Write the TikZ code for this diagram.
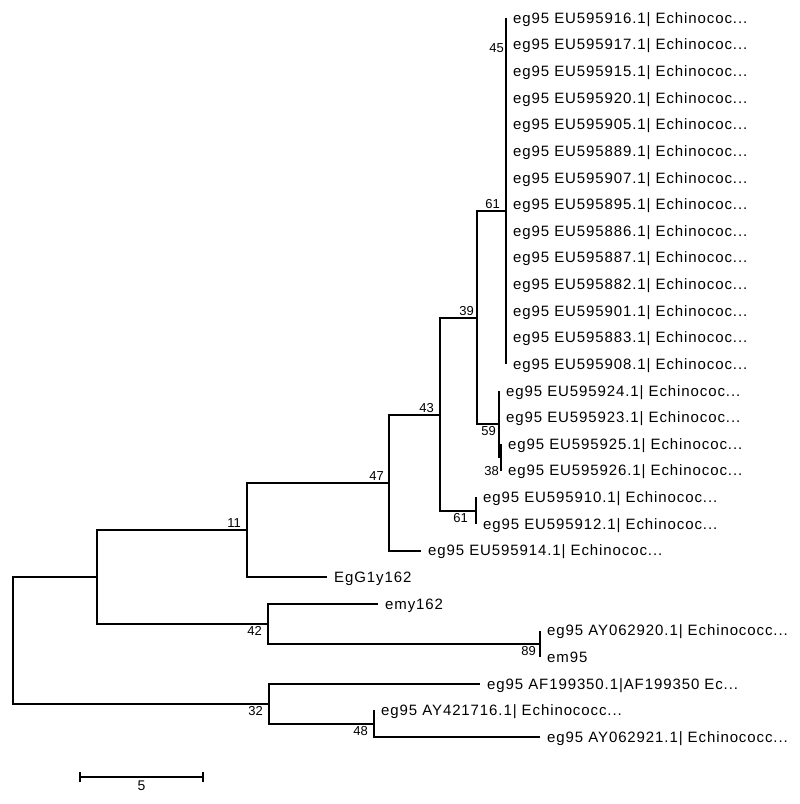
\documentclass[tikz,border=0pt]{standalone}
\usepackage{fontspec}
\setmainfont{Liberation Sans}
\newfontfamily\taxonfont[LetterSpace=6]{Liberation Sans}
\usetikzlibrary{calc}
\newcommand{\leaflabelfont}{\taxonfont\fontsize{15}{17}\selectfont}
\newcommand{\bootlabelfont}{\fontsize{13}{15}\selectfont}
\begin{document}
\begin{tikzpicture}[x=1pt,y=-1pt,
  branch/.style={line width=2pt},
  leaf/.style={anchor=west,inner sep=0pt,xshift=7pt,text height=10.5pt,text depth=0pt,font=\leaflabelfont,text=black},
  boot/.style={inner sep=2pt,font=\bootlabelfont,text=black}]
\useasboundingbox[fill=white] (0,0) rectangle (800,804);

% internal nodes
\coordinate (root) at (13,640.5);
\coordinate (nA) at (97,577);
\coordinate (n11) at (247,530);
\coordinate (n47) at (389,483);
\coordinate (n43) at (440,415);
\coordinate (n39) at (477,318);
\coordinate (n61) at (506,211);
\coordinate (n59) at (499,424);
\coordinate (n38) at (501,457);
\coordinate (n61b) at (476,511);
\coordinate (n42) at (268,624);
\coordinate (n89) at (540,644);
\coordinate (n32) at (269,704);
\coordinate (n48) at (374,724);

% leaf ends
\coordinate (l1) at (506,18.0);
\coordinate (l2) at (506,44.6);
\coordinate (l3) at (506,71.3);
\coordinate (l4) at (506,97.9);
\coordinate (l5) at (506,124.5);
\coordinate (l6) at (506,151.2);
\coordinate (l7) at (506,177.8);
\coordinate (l8) at (506,204.4);
\coordinate (l9) at (506,231.0);
\coordinate (l10) at (506,257.7);
\coordinate (l11) at (506,284.3);
\coordinate (l12) at (506,310.9);
\coordinate (l13) at (506,337.6);
\coordinate (l14) at (506,364.2);
\coordinate (l15) at (499,390.8);
\coordinate (l16) at (499,417.5);
\coordinate (l17) at (501,444.1);
\coordinate (l18) at (501,470.7);
\coordinate (l19) at (476,497.3);
\coordinate (l20) at (476,524.0);
\coordinate (l21) at (421,550.6);
\coordinate (l22) at (327,577.2);
\coordinate (l23) at (378,603.9);
\coordinate (l24) at (540,630.5);
\coordinate (l25) at (540,657.1);
\coordinate (l26) at (480,683.8);
\coordinate (l27) at (374,710.4);
\coordinate (l28) at (540,737.0);

% branches
\draw[branch] (root) |- (nA);
\draw[branch] (root) |- (n32);
\draw[branch] (nA) |- (n11);
\draw[branch] (nA) |- (n42);
\draw[branch] (n11) |- (n47);
\draw[branch] (n11) |- (l22);
\draw[branch] (n47) |- (n43);
\draw[branch] (n47) |- (l21);
\draw[branch] (n43) |- (n39);
\draw[branch] (n43) |- (n61b);
\draw[branch] (n39) |- (n61);
\draw[branch] (n39) |- (n59);
\draw[branch] (n61) -- (l1);
\draw[branch] (n61) -- (l14);
\draw[branch] (n59) -- (l15);
\draw[branch] (n59) |- (n38);
\draw[branch] (n38) -- (l17);
\draw[branch] (n38) -- (l18);
\draw[branch] (n61b) -- (l19);
\draw[branch] (n61b) -- (l20);
\draw[branch] (n42) |- (l23);
\draw[branch] (n42) |- (n89);
\draw[branch] (n89) -- (l24);
\draw[branch] (n89) -- (l25);
\draw[branch] (n32) |- (l26);
\draw[branch] (n32) |- (n48);
\draw[branch] (n48) -- (l27);
\draw[branch] (n48) |- (l28);

% taxa
\node[leaf] (t1) at (l1) {eg95 EU595916.1| Echinococ...};
\node[leaf] (t2) at (l2) {eg95 EU595917.1| Echinococ...};
\node[leaf] (t3) at (l3) {eg95 EU595915.1| Echinococ...};
\node[leaf] (t4) at (l4) {eg95 EU595920.1| Echinococ...};
\node[leaf] (t5) at (l5) {eg95 EU595905.1| Echinococ...};
\node[leaf] (t6) at (l6) {eg95 EU595889.1| Echinococ...};
\node[leaf] (t7) at (l7) {eg95 EU595907.1| Echinococ...};
\node[leaf] (t8) at (l8) {eg95 EU595895.1| Echinococ...};
\node[leaf] (t9) at (l9) {eg95 EU595886.1| Echinococ...};
\node[leaf] (t10) at (l10) {eg95 EU595887.1| Echinococ...};
\node[leaf] (t11) at (l11) {eg95 EU595882.1| Echinococ...};
\node[leaf] (t12) at (l12) {eg95 EU595901.1| Echinococ...};
\node[leaf] (t13) at (l13) {eg95 EU595883.1| Echinococ...};
\node[leaf] (t14) at (l14) {eg95 EU595908.1| Echinococ...};
\node[leaf] (t15) at (l15) {eg95 EU595924.1| Echinococ...};
\node[leaf] (t16) at (l16) {eg95 EU595923.1| Echinococ...};
\node[leaf] (t17) at (l17) {eg95 EU595925.1| Echinococ...};
\node[leaf] (t18) at (l18) {eg95 EU595926.1| Echinococ...};
\node[leaf] (t19) at (l19) {eg95 EU595910.1| Echinococ...};
\node[leaf] (t20) at (l20) {eg95 EU595912.1| Echinococ...};
\node[leaf] (t21) at (l21) {eg95 EU595914.1| Echinococ...};
\node[leaf] (t22) at (l22) {EgG1y162};
\node[leaf] (t23) at (l23) {emy162};
\node[leaf] (t24) at (l24) {eg95 AY062920.1| Echinococc...};
\node[leaf] (t25) at (l25) {em95};
\node[leaf] (t26) at (l26) {eg95 AF199350.1|AF199350 Ec...};
\node[leaf] (t27) at (l27) {eg95 AY421716.1| Echinococc...};
\node[leaf] (t28) at (l28) {eg95 AY062921.1| Echinococc...};

% bootstrap values
\node[boot,left,yshift=-3pt] (b45) at (l2) {45};
\node[boot,above left,xshift=-4pt] (b61) at (n61) {61};
\node[boot,above left,xshift=-1pt] (b39) at (n39) {39};
\node[boot,above left,xshift=-4pt] (b43) at (n43) {43};
\node[boot,above left,xshift=-3pt] (b47) at (n47) {47};
\node[boot,above left,xshift=-4pt] (b11) at (n11) {11};
\node[boot,below left,xshift=-1pt] (b59) at (n59) {59};
\node[boot,left] (b38) at (l18) {38};
\node[boot,below left,xshift=-6pt] (b61b) at (n61b) {61};
\node[boot,below left,xshift=-4pt] (b42) at (n42) {42};
\node[boot,below left,xshift=-2pt] (b89) at (n89) {89};
\node[boot,below left,xshift=-4pt] (b32) at (n32) {32};
\node[boot,below left,xshift=-4pt] (b48) at (n48) {48};

% scale bar
\coordinate (s0) at (80,777);
\coordinate (s1) at (203,777);
\draw[line width=1.4pt] (s0) -- (s1);
\draw[line width=1.4pt] ([yshift=-5pt]s0) -- ([yshift=5pt]s0);
\draw[line width=1.4pt] ([yshift=-5pt]s1) -- ([yshift=5pt]s1);
\node[boot,below,font=\fontsize{14}{16}\selectfont,yshift=-2pt] (sl) at ($(s0)!0.5!(s1)$) {5};
\end{tikzpicture}
\end{document}
